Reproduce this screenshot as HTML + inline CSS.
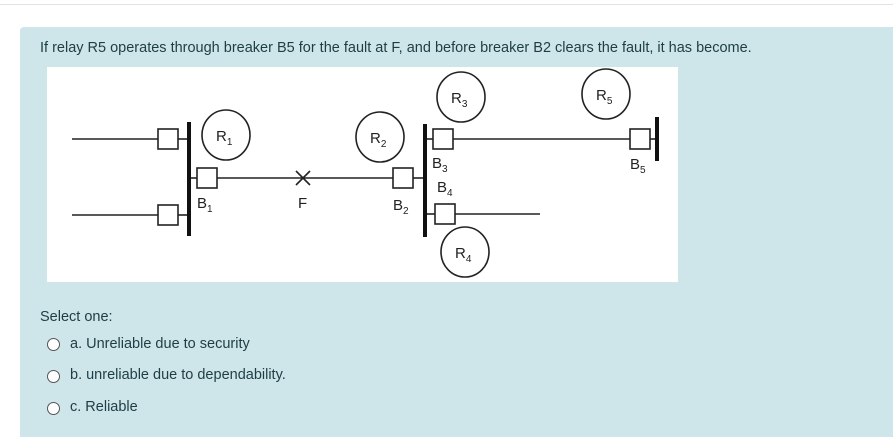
<!DOCTYPE html>
<html><head><style>
body{margin:0;width:893px;height:437px;background:#fff;position:relative;overflow:hidden;font-family:"Liberation Sans",sans-serif;}
.top{position:absolute;left:0;top:4px;width:893px;height:1px;background:#e3e3e3}
.panel{position:absolute;left:20px;top:27px;width:873px;height:410px;background:#cee5ea;border-radius:4px 0 0 0}
.t{position:absolute;color:#1e3d45;font-size:14.5px;white-space:nowrap}
.r{position:absolute;left:47px;width:11px;height:11px;border:1px solid #555;border-radius:50%;background:#fff}
</style></head><body>
<div class="top"></div>
<div class="panel"></div>
<div class="t" style="left:40px;top:40px">If relay R5 operates through breaker B5 for the fault at F, and before breaker B2 clears the fault, it has become.</div>
<svg style="position:absolute;left:47px;top:67px" width="631" height="215" viewBox="47 67 631 215">
<rect x="47" y="67" width="631" height="215" fill="#fff"/>
<g stroke="#222" stroke-width="1.6" fill="none">
<line x1="72" y1="139" x2="158" y2="139"/><rect x="158" y="129" width="20" height="20" fill="#fff"/><line x1="178" y1="139" x2="189" y2="139"/>
<line x1="72" y1="215" x2="158" y2="215"/><rect x="158" y="205" width="20" height="20" fill="#fff"/><line x1="178" y1="215" x2="189" y2="215"/>
<line x1="189" y1="178" x2="197" y2="178"/><rect x="197" y="168" width="20" height="20" fill="#fff"/>
<line x1="217" y1="178" x2="393" y2="178"/><rect x="393" y="168" width="20" height="20" fill="#fff"/><line x1="413" y1="178" x2="425" y2="178"/>
<line x1="296" y1="171" x2="310" y2="185"/><line x1="310" y1="171" x2="296" y2="185"/>
<line x1="425" y1="139" x2="433" y2="139"/><rect x="433" y="129" width="20" height="20" fill="#fff"/><line x1="453" y1="139" x2="630" y2="139"/>
<rect x="630" y="129" width="20" height="20" fill="#fff"/><line x1="650" y1="139" x2="657" y2="139"/>
<line x1="425" y1="214" x2="435" y2="214"/><rect x="435" y="204" width="20" height="20" fill="#fff"/><line x1="455" y1="214" x2="540" y2="214"/>
<ellipse cx="226" cy="135" rx="24" ry="25"/><ellipse cx="380" cy="137" rx="24" ry="25"/>
<ellipse cx="461" cy="97" rx="24" ry="25"/><ellipse cx="606" cy="94" rx="24" ry="25"/>
<ellipse cx="465" cy="252" rx="24" ry="25"/>
</g>
<g fill="#111"><rect x="187" y="122" width="4" height="114"/><rect x="423" y="124" width="4" height="113"/><rect x="655" y="117" width="4" height="44"/></g>
<g font-family="Liberation Sans,sans-serif" font-size="15" fill="#222">
<text x="216" y="141">R<tspan font-size="10" dy="4">1</tspan></text>
<text x="370" y="143">R<tspan font-size="10" dy="4">2</tspan></text>
<text x="451" y="103">R<tspan font-size="10" dy="4">3</tspan></text>
<text x="596" y="100">R<tspan font-size="10" dy="4">5</tspan></text>
<text x="455" y="258">R<tspan font-size="10" dy="4">4</tspan></text>
<text x="197" y="208">B<tspan font-size="10" dy="4">1</tspan></text>
<text x="298" y="208">F</text>
<text x="393" y="210">B<tspan font-size="10" dy="4">2</tspan></text>
<text x="432" y="168">B<tspan font-size="10" dy="4">3</tspan></text>
<text x="437" y="192">B<tspan font-size="10" dy="4">4</tspan></text>
<text x="630" y="169">B<tspan font-size="10" dy="4">5</tspan></text>
</g>
</svg>
<div class="t" style="left:40px;top:309px">Select one:</div>
<div class="r" style="top:338px"></div><div class="t" style="left:70px;top:336px">a. Unreliable due to security</div>
<div class="r" style="top:370px"></div><div class="t" style="left:70px;top:367px">b. unreliable due to dependability.</div>
<div class="r" style="top:402px"></div><div class="t" style="left:70px;top:399px">c. Reliable</div>
</body></html>
